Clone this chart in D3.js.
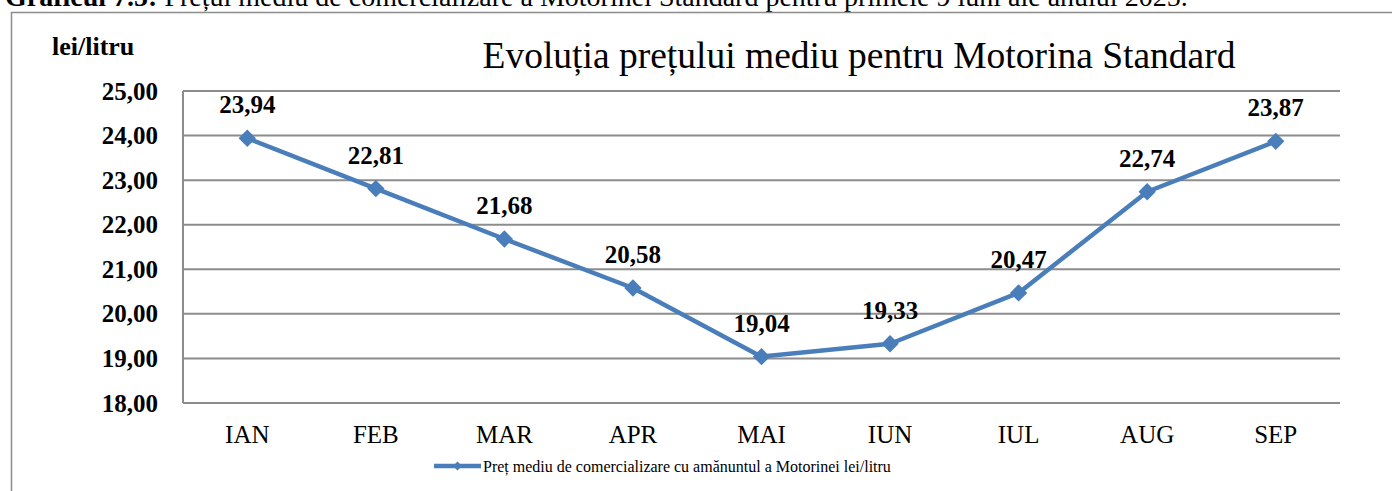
<!DOCTYPE html>
<html>
<head>
<meta charset="utf-8">
<script src="https://cdn.jsdelivr.net/npm/d3@7"></script>
<style>
  body { margin: 0; background: #fff; }
  svg { display: block; font-family: "Liberation Serif", "Times New Roman", serif; }
</style>
</head>
<body>
<script>
// data
var months = ["IAN", "FEB", "MAR", "APR", "MAI", "IUN", "IUL", "AUG", "SEP"];
var prices = [23.94, 22.81, 21.68, 20.58, 19.04, 19.33, 20.47, 22.74, 23.87];
var yTicks = [18, 19, 20, 21, 22, 23, 24, 25];

var w = 1392, h = 491;
var plotLeft = 183, plotRight = 1340, plotTop = 91, plotBottom = 403;
var blue = "#4a7ebb", grid = "#8c8c8c";

var svg = d3.select("body").append("svg")
    .attr("width", w)
    .attr("height", h);

// caption above the frame (cut off in the original)
var cap = svg.append("text")
    .attr("x", 5).attr("y", 6)
    .style("font-size", "28px");
cap.append("tspan").style("font-weight", "bold").text("Graficul 7.5:");
cap.append("tspan").text(" Prețul mediu de comercializare a Motorinei Standard pentru primele 9 luni ale anului 2025.");

// outer frame
svg.append("path")
    .attr("d", "M11.5," + h + "V12.5H" + w)
    .attr("fill", "none")
    .attr("stroke", grid)
    .attr("stroke-width", 1.5);

var x = d3.scaleBand().domain(months).range([plotLeft, plotRight]);
var y = d3.scaleLinear().domain([18, 25]).range([plotBottom, plotTop]);

// gridlines
svg.selectAll("line.grid")
    .data(yTicks)
    .enter()
    .append("line")
    .attr("class", "grid")
    .attr("x1", plotLeft).attr("x2", plotRight)
    .attr("y1", d => y(d)).attr("y2", d => y(d))
    .attr("stroke", grid)
    .attr("stroke-width", 2);

svg.append("line")
    .attr("x1", plotLeft).attr("x2", plotLeft)
    .attr("y1", y(25)).attr("y2", y(18))
    .attr("stroke", grid)
    .attr("stroke-width", 2);

// y axis labels
var yAxis = d3.axisLeft(y)
    .tickValues(yTicks)
    .tickSize(0)
    .tickPadding(25)
    .tickFormat(d => d3.format(".2f")(d).replace(".", ","));
var gy = svg.append("g")
    .attr("transform", "translate(" + plotLeft + ",0)")
    .call(yAxis);
gy.select(".domain").remove();
gy.selectAll("text")
    .style("font-family", "Liberation Serif, serif")
    .style("font-size", "25px")
    .style("font-weight", "bold")
    .attr("fill", "#000");

// x axis labels
var xAxis = d3.axisBottom(x).tickSize(0).tickPadding(22);
var gx = svg.append("g")
    .attr("transform", "translate(0," + plotBottom + ")")
    .call(xAxis);
gx.select(".domain").remove();
gx.selectAll("text")
    .style("font-family", "Liberation Serif, serif")
    .style("font-size", "25px")
    .attr("fill", "#000");

// unit label and title
svg.append("text")
    .attr("x", 52).attr("y", 55)
    .style("font-size", "26px")
    .style("font-weight", "bold")
    .text("lei/litru");

svg.append("text")
    .attr("x", 859).attr("y", 68)
    .attr("text-anchor", "middle")
    .style("font-size", "37.5px")
    .text("Evoluția prețului mediu pentru Motorina Standard");

// line
var line = d3.line()
    .x((d, i) => x(months[i]) + x.bandwidth() / 2)
    .y(d => y(d));

svg.append("path")
    .datum(prices)
    .attr("d", line)
    .attr("fill", "none")
    .attr("stroke", blue)
    .attr("stroke-width", 4.5)
    .attr("stroke-linejoin", "round");

var diamond = d3.symbol().type(d3.symbolSquare).size(150);
svg.selectAll("path.pt")
    .data(prices)
    .enter()
    .append("path")
    .attr("class", "pt")
    .attr("d", diamond)
    .attr("transform", (d, i) => "translate(" + (x(months[i]) + x.bandwidth() / 2) + "," + y(d) + ") rotate(45)")
    .attr("fill", blue);

// value labels
svg.selectAll("text.val")
    .data(prices)
    .enter()
    .append("text")
    .attr("class", "val")
    .attr("x", (d, i) => x(months[i]) + x.bandwidth() / 2)
    .attr("y", d => y(d) - 25)
    .attr("text-anchor", "middle")
    .style("font-size", "25px")
    .style("font-weight", "bold")
    .text(d => d3.format(".2f")(d).replace(".", ","));

// legend
var lg = svg.append("g").attr("transform", "translate(434,466)");
lg.append("line")
    .attr("x1", 0).attr("x2", 47)
    .attr("stroke", blue)
    .attr("stroke-width", 4.5);
lg.append("path")
    .attr("d", d3.symbol().type(d3.symbolSquare).size(40))
    .attr("transform", "translate(23.5,0) rotate(45)")
    .attr("fill", blue);
lg.append("text")
    .attr("x", 49).attr("y", 5.5)
    .style("font-size", "16px")
    .text("Preț mediu de comercializare cu amănuntul a Motorinei lei/litru");
</script>
</body>
</html>
